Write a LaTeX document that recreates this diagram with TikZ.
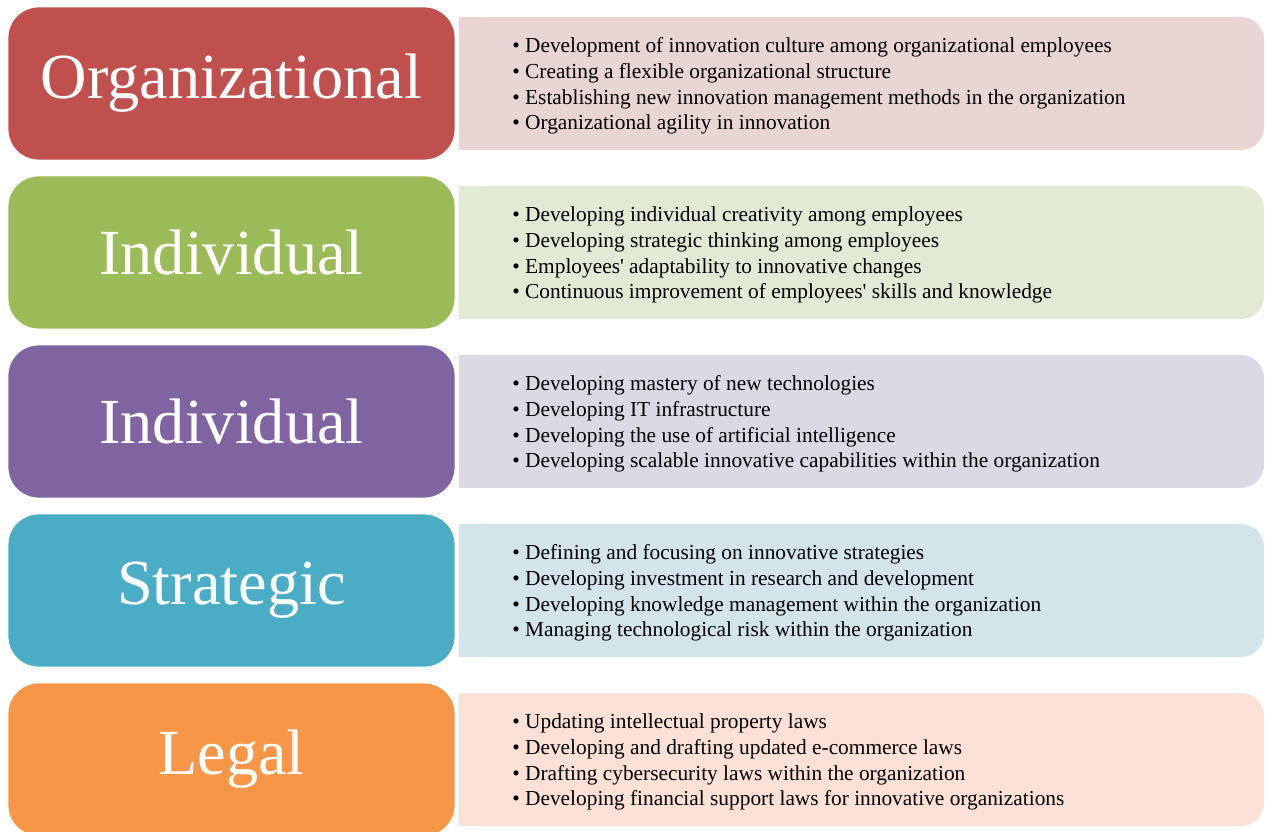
\documentclass[tikz,border=0pt]{standalone}
\usepackage{fontspec}
\setmainfont{Liberation Serif}
\usepackage{xcolor}
\usetikzlibrary{positioning}
\definecolor{DimOrg}{HTML}{C0504D}
\definecolor{DimInd}{HTML}{9BBB59}
\definecolor{DimTec}{HTML}{8064A2}
\definecolor{DimStr}{HTML}{4BACC6}
\definecolor{DimLeg}{HTML}{F79646}
\definecolor{BgOrg}{HTML}{EAD5D5}
\definecolor{BgInd}{HTML}{E2EAD6}
\definecolor{BgTec}{HTML}{DDD9E4}
\definecolor{BgStr}{HTML}{D4E4EB}
\definecolor{BgLeg}{HTML}{FBE0D5}

\begin{document}
\begin{tikzpicture}[
  head/.style={draw=white,line width=1.6pt,rounded corners=18pt,minimum width=8.98cm,
               minimum height=3.1cm,inner sep=0pt,text=white,font=\fontsize{36.6}{40}\selectfont},
  panel/.style={rounded corners=13pt,minimum width=16.1cm,minimum height=2.66cm,inner sep=0pt},
  items/.style={anchor=west,align=left,inner sep=0pt,text=black,
                font=\fontsize{12.15}{14.7}\selectfont},
]
\useasboundingbox (0,0) rectangle (25.32,-16.64);
\clip (0,0) rectangle (25.32,-16.64);

% light panels behind the headers (square on the left side)
\node[panel,fill=BgOrg] (p1) at (17.23,-1.67)  {};
\node[panel,fill=BgInd] (p2) at (17.23,-5.05)  {};
\node[panel,fill=BgTec] (p3) at (17.23,-8.43)  {};
\node[panel,fill=BgStr] (p4) at (17.23,-11.81) {};
\node[panel,fill=BgLeg] (p5) at (17.23,-15.19) {};
\foreach \i/\c in {1/BgOrg,2/BgInd,3/BgTec,4/BgStr,5/BgLeg}
  \fill[\c] (p\i.north west) rectangle (p\i.south);

% coloured headers
\node[head,fill=DimOrg] (h1) at (4.63,-1.67)  {Organizational};
\node[head,fill=DimInd] (h2) at (4.63,-5.05)  {Individual};
\node[head,fill=DimTec] (h3) at (4.63,-8.43)  {Individual};
\node[head,fill=DimStr] (h4) at (4.63,-11.81) {Strategic};
\node[head,fill=DimLeg] (h5) at (4.63,-15.19) {Legal};

% bullet lists
\node[items] (l1) at (10.24,-1.72) {\textbullet\ Development of innovation culture among organizational employees\\
  \textbullet\ Creating a flexible organizational structure\\
  \textbullet\ Establishing new innovation management methods in the organization\\
  \textbullet\ Organizational agility in innovation};
\node[items] (l2) at (10.24,-5.10) {\textbullet\ Developing individual creativity among employees\\
  \textbullet\ Developing strategic thinking among employees\\
  \textbullet\ Employees\textquotesingle\ adaptability to innovative changes\\
  \textbullet\ Continuous improvement of employees\textquotesingle\ skills and knowledge};
\node[items] (l3) at (10.24,-8.48) {\textbullet\ Developing mastery of new technologies\\
  \textbullet\ Developing IT infrastructure\\
  \textbullet\ Developing the use of artificial intelligence\\
  \textbullet\ Developing scalable innovative capabilities within the organization};
\node[items] (l4) at (10.24,-11.86) {\textbullet\ Defining and focusing on innovative strategies\\
  \textbullet\ Developing investment in research and development\\
  \textbullet\ Developing knowledge management within the organization\\
  \textbullet\ Managing technological risk within the organization};
\node[items] (l5) at (10.24,-15.24) {\textbullet\ Updating intellectual property laws\\
  \textbullet\ Developing and drafting updated e-commerce laws\\
  \textbullet\ Drafting cybersecurity laws within the organization\\
  \textbullet\ Developing financial support laws for innovative organizations};
\end{tikzpicture}
\end{document}
